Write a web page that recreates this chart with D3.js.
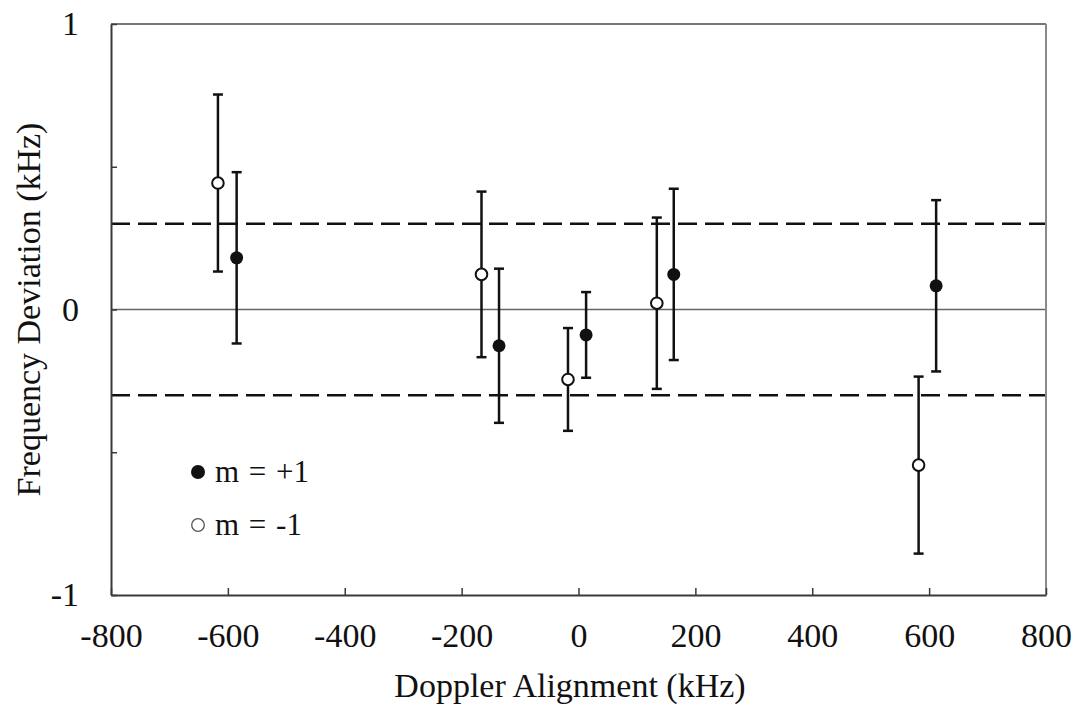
<!DOCTYPE html>
<html><head><meta charset="utf-8">
<script src="https://cdn.jsdelivr.net/npm/d3@7"></script>
<style>body{margin:0;background:#fff}svg{display:block}text{font-family:"Liberation Serif","Times New Roman",serif;fill:#111}</style>
</head><body>
<svg id="c" width="1077" height="711"></svg>
<script>
// Data
const plusX = [-585, -136, 13, 163, 612];
const plusY = [0.181, -0.127, -0.089, 0.123, 0.083];
const plusErr = [0.30, 0.27, 0.15, 0.30, 0.30];
const minusX = [-617, -166, -18, 134, 582];
const minusY = [0.443, 0.123, -0.245, 0.022, -0.545];
const minusErr = [0.31, 0.29, 0.18, 0.30, 0.31];
const xTicks = [-800, -600, -400, -200, 0, 200, 400, 600, 800];
const yTicks = [-1, -0.5, 0, 0.5, 1];
const yLabels = [-1, 0, 1];
const limitLines = [0.3, -0.3];
const legendLabels = ["m = +1", "m = -1"];

const svg = d3.select("#c");
const L = 111, R = 1046, T = 24, B = 595;
const x = d3.scaleLinear().domain([-800, 800]).range([L, R]);
const y = d3.scaleLinear().domain([-1, 1]).range([B, T]);

// zero line
svg.append("line").attr("x1", L).attr("x2", R).attr("y1", y(0)).attr("y2", y(0))
  .attr("stroke", "#666").attr("stroke-width", 1.6);
// dashed limits
svg.selectAll(".lim").data(limitLines).enter().append("line")
  .attr("x1", L).attr("x2", R).attr("y1", d => y(d)).attr("y2", d => y(d))
  .attr("stroke", "#111").attr("stroke-width", 2.5).attr("stroke-dasharray", "19,8");

// frame
svg.append("line").attr("x1", L).attr("x2", R).attr("y1", T).attr("y2", T).attr("stroke", "#777").attr("stroke-width", 2);
svg.append("line").attr("x1", R).attr("x2", R).attr("y1", T).attr("y2", B).attr("stroke", "#8a8a8a").attr("stroke-width", 2);

// axes
const fmt = d => d < 0 ? "-" + Math.abs(d) : String(d);
const xAxis = d3.axisBottom(x).tickValues(xTicks).tickSizeInner(-7).tickSizeOuter(0).tickFormat(fmt);
const gx = svg.append("g").attr("transform", `translate(0,${B})`).call(xAxis);
gx.select(".domain").attr("stroke", "#3a3a3a").attr("stroke-width", 2);
gx.selectAll(".tick line").attr("stroke", "#3a3a3a").attr("stroke-width", 1.5);
gx.selectAll(".tick text").style("font-size", "34px").attr("fill", "#111").attr("y", 52).attr("dy", null);

const yAxis = d3.axisLeft(y).tickValues(yTicks).tickSizeInner(-6).tickSizeOuter(0).tickPadding(32)
  .tickFormat(d => yLabels.includes(d) ? fmt(d) : "");
const gy = svg.append("g").attr("transform", `translate(${L},0)`).call(yAxis);
gy.select(".domain").attr("stroke", "#3a3a3a").attr("stroke-width", 2);
gy.selectAll(".tick line").attr("stroke", "#3a3a3a").attr("stroke-width", 1.5);
gy.selectAll(".tick text").style("font-size", "34px").attr("fill", "#111");

// error bars
function drawSeries(xs, ys, es, filled) {
  const data = xs.map((v, i) => ({x: v, y: ys[i], e: es[i]}));
  const g = svg.append("g");
  g.selectAll(".v").data(data).enter().append("line")
    .attr("x1", d => x(d.x)).attr("x2", d => x(d.x))
    .attr("y1", d => y(d.y + d.e)).attr("y2", d => y(d.y - d.e))
    .attr("stroke", "#111").attr("stroke-width", 2.5);
  [1, -1].forEach(s => {
    g.selectAll(".c" + s).data(data).enter().append("line")
      .attr("x1", d => x(d.x) - 5).attr("x2", d => x(d.x) + 5)
      .attr("y1", d => y(d.y + s * d.e)).attr("y2", d => y(d.y + s * d.e))
      .attr("stroke", "#111").attr("stroke-width", 2.5);
  });
  g.selectAll("circle").data(data).enter().append("circle")
    .attr("cx", d => x(d.x)).attr("cy", d => y(d.y)).attr("r", filled ? 6.5 : 5.8)
    .attr("fill", filled ? "#111" : "#fff").attr("stroke", "#111").attr("stroke-width", filled ? 0 : 2);
}
drawSeries(minusX, minusY, minusErr, false);
drawSeries(plusX, plusY, plusErr, true);

// legend
const leg = svg.append("g");
legendLabels.forEach((lab, i) => {
  const cy = 472 + i * 53;
  leg.append("circle").attr("cx", 198).attr("cy", cy).attr("r", i === 0 ? 7 : 6.3)
    .attr("fill", i === 0 ? "#111" : "#fff").attr("stroke", i === 0 ? "none" : "#555").attr("stroke-width", 1.3);
  leg.append("text").attr("x", 215).attr("y", cy + 10).style("font-size", "31px")
    .style("word-spacing", "2px").text(lab);
});

// axis titles
svg.append("text").attr("x", 570).attr("y", 697).attr("text-anchor", "middle")
  .style("font-size", "34px").text("Doppler Alignment (kHz)");
svg.append("text").attr("transform", `translate(40,${(T + B) / 2}) rotate(-90)`).attr("text-anchor", "middle")
  .style("font-size", "34px").text("Frequency Deviation (kHz)");
</script>
</body></html>
